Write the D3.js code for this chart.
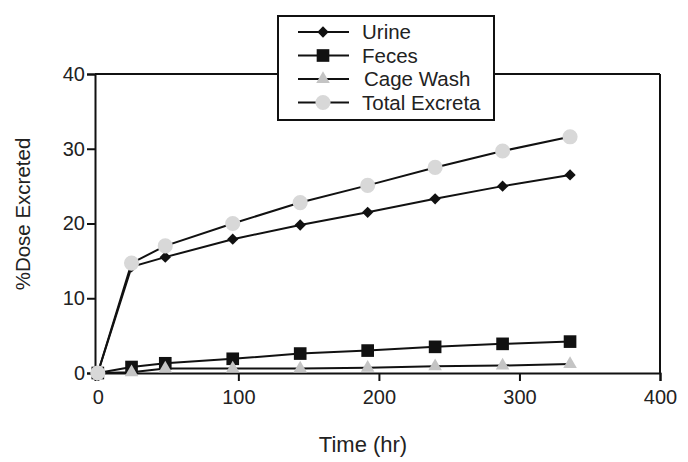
<!DOCTYPE html>
<html>
<head>
<meta charset="utf-8">
<script src="https://cdn.jsdelivr.net/npm/d3@7"></script>
<style>
  body { margin: 0; background: #fff; }
  text { font-family: "Liberation Sans", Arial, sans-serif; fill: #222; }
</style>
</head>
<body>
<div id="chart"></div>
<script>
// sampling times (hr)
const times = [0, 24, 48, 96, 144, 192, 240, 288, 336];
const urine = [0, 14.2, 15.5, 17.9, 19.8, 21.5, 23.3, 25.0, 26.5];
const feces = [0, 0.8, 1.3, 1.9, 2.6, 3.0, 3.5, 3.9, 4.2];
const cageWash = [0, 0.1, 0.6, 0.6, 0.6, 0.7, 0.9, 1.0, 1.2];
const totalExcreta = [0, 14.7, 17.0, 20.0, 22.8, 25.1, 27.5, 29.7, 31.6];
const xTicks = [0, 100, 200, 300, 400];
const yTicks = [0, 10, 20, 30, 40];
const seriesNames = ["Urine", "Feces", "Cage Wash", "Total Excreta"];

const width = 688, height = 462;
const margin = { top: 74, right: 28, bottom: 89, left: 95 };

const svg = d3.select("#chart").append("svg")
    .attr("width", width)
    .attr("height", height);

const x = d3.scaleLinear().domain([-2, 400]).range([margin.left, width - margin.right]);
const y = d3.scaleLinear().domain([0, 40]).range([height - margin.bottom, margin.top]);

// diamond = square turned 45 degrees
const series = [
    { name: seriesNames[0], values: urine, symbol: d3.symbolSquare, size: 64, rot: 45, fill: "#111" },
    { name: seriesNames[1], values: feces, symbol: d3.symbolSquare, size: 160, rot: 0, fill: "#111" },
    { name: seriesNames[2], values: cageWash, symbol: d3.symbolTriangle, size: 80, rot: 0, fill: "#c4c4c4" },
    { name: seriesNames[3], values: totalExcreta, symbol: d3.symbolCircle, size: 180, rot: 0, fill: "#d8d8d8" }
];

const line = d3.line()
    .x(d => x(d[0]))
    .y(d => y(d[1]));

// frame top and right
svg.append("line")
    .attr("x1", x(-2)).attr("x2", x(400))
    .attr("y1", y(40)).attr("y2", y(40))
    .attr("stroke", "#111").attr("stroke-width", 2);
svg.append("line")
    .attr("x1", x(400)).attr("x2", x(400))
    .attr("y1", y(40)).attr("y2", y(0))
    .attr("stroke", "#111").attr("stroke-width", 2);

// axes
const xAxis = svg.append("g")
    .attr("transform", `translate(0,${y(0)})`)
    .call(d3.axisBottom(x).tickValues(xTicks).tickSize(8).tickPadding(9));
const yAxis = svg.append("g")
    .attr("transform", `translate(${x(-2)},0)`)
    .call(d3.axisLeft(y).tickValues(yTicks).tickSize(8).tickPadding(2));

[xAxis, yAxis].forEach(g => {
    g.select(".domain").attr("stroke", "#111").attr("stroke-width", 2);
    g.selectAll(".tick line").attr("stroke", "#111").attr("stroke-width", 2);
    g.selectAll(".tick text").style("font-size", "20px").attr("fill", "#222");
});

// series lines and markers
series.forEach(s => {
    const pts = times.map((t, i) => [t, s.values[i]]);
    svg.append("path")
        .datum(pts)
        .attr("d", line)
        .attr("fill", "none")
        .attr("stroke", "#111")
        .attr("stroke-width", 2);
});
series.forEach(s => {
    const pts = times.map((t, i) => [t, s.values[i]]);
    svg.append("g").selectAll("path")
        .data(pts)
        .enter().append("path")
        .attr("transform", d => `translate(${x(d[0])},${y(d[1])}) rotate(${s.rot})`)
        .attr("d", d3.symbol().type(s.symbol).size(s.size))
        .attr("fill", s.fill);
});

// axis titles
svg.append("text")
    .attr("x", 363).attr("y", 452)
    .attr("text-anchor", "middle")
    .style("font-size", "22px")
    .text("Time (hr)");
svg.append("text")
    .attr("transform", "translate(30,214) rotate(-90)")
    .attr("text-anchor", "middle")
    .style("font-size", "20.5px")
    .text("%Dose Excreted");

// legend
const legend = svg.append("g");
legend.append("rect")
    .attr("x", 278).attr("y", 16)
    .attr("width", 216).attr("height", 104)
    .attr("fill", "#fff")
    .attr("stroke", "#111").attr("stroke-width", 2);

series.forEach((s, i) => {
    const ly = 32 + i * 23.5;
    legend.append("line")
        .attr("x1", 298).attr("x2", 349)
        .attr("y1", ly).attr("y2", ly)
        .attr("stroke", "#111").attr("stroke-width", 2);
    legend.append("path")
        .attr("transform", `translate(323,${ly}) rotate(${s.rot})`)
        .attr("d", d3.symbol().type(s.symbol).size(s.size))
        .attr("fill", s.fill);
    legend.append("text")
        .attr("x", i === 2 ? 364 : 362).attr("y", ly + 7)
        .style("font-size", "20.5px")
        .text(s.name);
});
</script>
</body>
</html>
